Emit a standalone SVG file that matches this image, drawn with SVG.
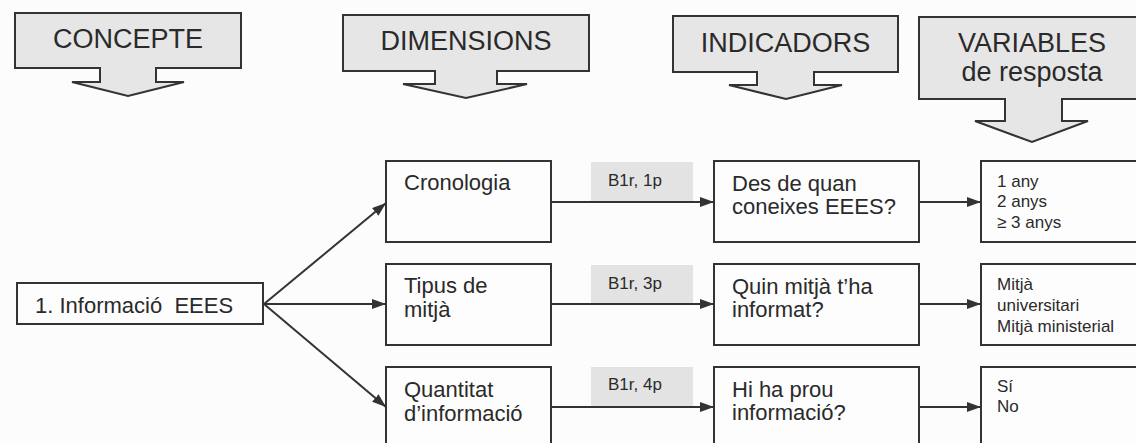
<svg xmlns="http://www.w3.org/2000/svg" width="1136" height="443" viewBox="0 0 1136 443">
<defs>
<style>
.bg{fill:#fcfcfc}
.hdr{fill:#e6e6e6;stroke:#333;stroke-width:2;stroke-linejoin:miter}
.box{fill:#fdfdfd;stroke:#333;stroke-width:2}
.lbl{fill:#e3e3e3;stroke:none}
.ht{font-family:"Liberation Sans",Arial,sans-serif;font-size:27px;fill:#2a2a2a;text-anchor:middle}
.t{font-family:"Liberation Sans",Arial,sans-serif;font-size:22px;fill:#2a2a2a}
.s{font-family:"Liberation Sans",Arial,sans-serif;font-size:17px;fill:#2a2a2a}
.lt{font-family:"Liberation Sans",Arial,sans-serif;font-size:17px;fill:#2a2a2a}
.c{stroke:#333;stroke-width:2;fill:none}
</style>
<marker id="ah" viewBox="0 0 14 10" refX="14" refY="5" markerWidth="14" markerHeight="10" markerUnits="userSpaceOnUse" orient="auto">
<path d="M0,0 L14,5 L0,10 Z" fill="#333"/>
</marker>
</defs>
<rect class="bg" x="0" y="0" width="1136" height="443"/>

<g id="hdr-concepte">
<polygon class="hdr" points="15,13 241,13 241,68 156,68 156,82 184,82 128,96 72,82 100,82 100,68 15,68"/>
<text class="ht" x="128" y="48">CONCEPTE</text>
</g>
<g id="hdr-dimensions">
<polygon class="hdr" points="343,15 589,15 589,71 497,71 497,84 527,84 466,98 403,84 435,84 435,71 343,71"/>
<text class="ht" x="466" y="50">DIMENSIONS</text>
</g>
<g id="hdr-indicadors">
<polygon class="hdr" points="673,16 898,16 898,72 814,72 814,85 842,85 786,99 729,85 757,85 757,72 673,72"/>
<text class="ht" x="785.5" y="52">INDICADORS</text>
</g>
<g id="hdr-variables">
<polygon class="hdr" points="919,17 1145,17 1145,99 1062,99 1062,121 1088,121 1032,142 975,121 1005,121 1005,99 919,99"/>
<text class="ht" x="1032" y="52">VARIABLES</text>
<text class="ht" x="1032" y="81">de resposta</text>
</g>

<g id="node-concepte">
<rect class="box" x="17" y="283" width="246" height="41"/>
<text class="t" x="35" y="313" style="white-space:pre" xml:space="preserve">1. Informació  EEES</text>
</g>

<g id="node-dim1">
<rect class="box" x="386" y="161" width="165" height="81"/>
<text class="t" x="404" y="190">Cronologia</text>
</g>
<g id="node-dim2">
<rect class="box" x="386" y="264" width="165" height="81"/>
<text class="t" x="404" y="293">Tipus de</text>
<text class="t" x="404" y="317">mitjà</text>
</g>
<g id="node-dim3">
<rect class="box" x="386" y="367" width="165" height="81"/>
<text class="t" x="404" y="397">Quantitat</text>
<text class="t" x="404" y="421">d’informació</text>
</g>

<g id="lbl1">
<rect class="lbl" x="591" y="162" width="102" height="39"/>
<text class="lt" x="608" y="186">B1r, 1p</text>
</g>
<g id="lbl2">
<rect class="lbl" x="591" y="265" width="102" height="38"/>
<text class="lt" x="608" y="289">B1r, 3p</text>
</g>
<g id="lbl3">
<rect class="lbl" x="591" y="367" width="102" height="39"/>
<text class="lt" x="608" y="390">B1r, 4p</text>
</g>

<g id="node-ind1">
<rect class="box" x="714" y="161" width="205" height="81"/>
<text class="t" x="732" y="191">Des de quan</text>
<text class="t" x="732" y="214">coneixes EEES?</text>
</g>
<g id="node-ind2">
<rect class="box" x="714" y="264" width="205" height="81"/>
<text class="t" x="732" y="294">Quin mitjà t’ha</text>
<text class="t" x="732" y="317">informat?</text>
</g>
<g id="node-ind3">
<rect class="box" x="714" y="367" width="205" height="81"/>
<text class="t" x="732" y="397">Hi ha prou</text>
<text class="t" x="732" y="420">informació?</text>
</g>

<g id="node-var1">
<rect class="box" x="981" y="161" width="170" height="81"/>
<text class="s" x="997" y="187">1 any</text>
<text class="s" x="997" y="207">2 anys</text>
<text class="s" x="997" y="228">≥ 3 anys</text>
</g>
<g id="node-var2">
<rect class="box" x="981" y="264" width="170" height="81"/>
<text class="s" x="997" y="290">Mitjà</text>
<text class="s" x="997" y="311">universitari</text>
<text class="s" x="997" y="332">Mitjà ministerial</text>
</g>
<g id="node-var3">
<rect class="box" x="981" y="367" width="170" height="81"/>
<text class="s" x="997" y="392">Sí</text>
<text class="s" x="997" y="412">No</text>
</g>

<g id="connectors">
<line class="c" x1="264" y1="304" x2="386" y2="203" marker-end="url(#ah)"/>
<line class="c" x1="264" y1="304" x2="386" y2="304" marker-end="url(#ah)"/>
<line class="c" x1="264" y1="304" x2="386" y2="407" marker-end="url(#ah)"/>
<line class="c" x1="551" y1="202" x2="714" y2="202" marker-end="url(#ah)"/>
<line class="c" x1="551" y1="304" x2="714" y2="304" marker-end="url(#ah)"/>
<line class="c" x1="551" y1="407" x2="714" y2="407" marker-end="url(#ah)"/>
<line class="c" x1="919" y1="202" x2="981" y2="202" marker-end="url(#ah)"/>
<line class="c" x1="919" y1="304" x2="981" y2="304" marker-end="url(#ah)"/>
<line class="c" x1="919" y1="407" x2="981" y2="407" marker-end="url(#ah)"/>
</g>
</svg>
